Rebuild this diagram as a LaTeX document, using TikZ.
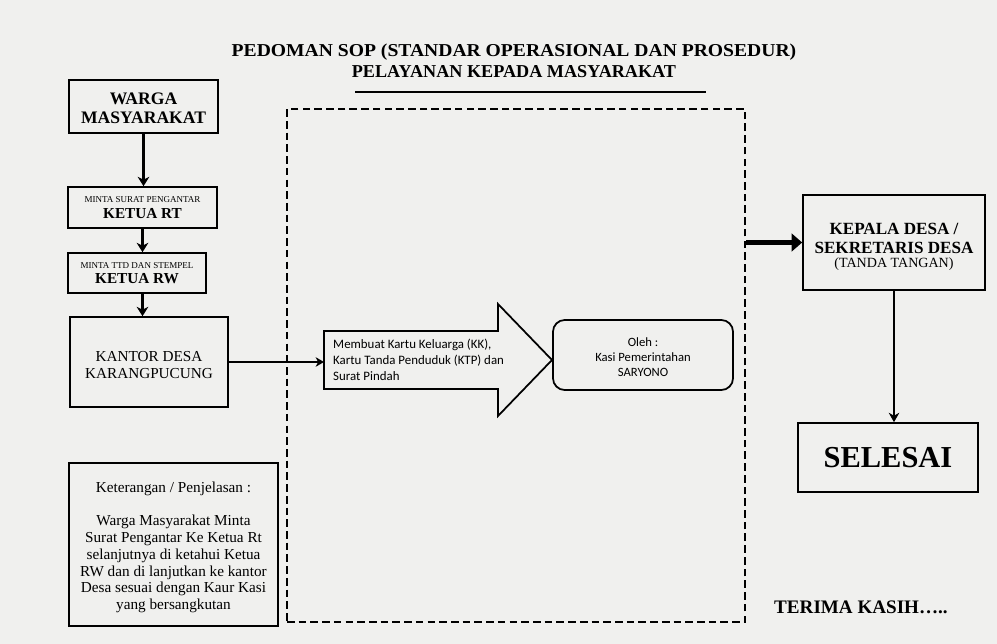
\documentclass[tikz,border=0pt]{standalone}
\usepackage{fontspec}
\setmainfont{Liberation Serif}
\newfontfamily\calfont{Carlito}
\usetikzlibrary{arrows.meta}
\definecolor{paper}{RGB}{240,240,238}
\begin{document}
\begin{tikzpicture}[x=0.03cm,y=-0.03cm,
  box/.style={draw, line width=1.4pt, inner sep=0pt, align=center},
  txt/.style={inner sep=0pt, align=center},
  flow/.style={line width=2pt, -{Stealth[length=8pt,width=10pt,inset=2.5pt]}},
  thinflow/.style={line width=1.6pt, -{Stealth[length=8pt,width=9pt,inset=2.5pt]}},
  bigflow/.style={line width=5pt, -{Triangle[length=9pt,width=15pt]}}]
\fill[paper] (0,0) rectangle (997,644);
\useasboundingbox (0,0) rectangle (997,644);

% title
\node[font=\fontsize{15.5}{18}\selectfont\bfseries, align=center] (title) at (514,61)
  {\scalebox{1.08}[1]{PEDOMAN SOP (STANDAR OPERASIONAL DAN PROSEDUR)}\\PELAYANAN KEPADA MASYARAKAT};
\coordinate (ul1) at (355,92);
\coordinate (ul2) at (706,92);
\draw[line width=1.6pt] (ul1) -- (ul2);

% left column
\node[box, minimum width=4.47cm, minimum height=1.59cm] (warga) at (143.5,106.5) {};
\node[txt, font=\fontsize{15}{16.5}\selectfont\bfseries] (wargatxt) at ([yshift=-1.7pt]warga.center) {WARGA\\MASYARAKAT};
\node[box, minimum width=4.47cm, minimum height=1.23cm, font=\fontsize{7.7}{13.5}\selectfont] (rt) at (142.5,207.5)
  {MINTA SURAT PENGANTAR\\{\fontsize{13}{14}\selectfont\bfseries KETUA RT}};
\node[box, minimum width=4.14cm, minimum height=1.2cm, font=\fontsize{7.7}{12.8}\selectfont] (rw) at (137,273)
  {MINTA TTD DAN STEMPEL\\{\fontsize{13}{14}\selectfont\bfseries KETUA RW}};
\node[box, minimum width=4.74cm, minimum height=2.7cm] (kantor) at (149,362) {};
\node[txt, font=\fontsize{13}{14.5}\selectfont] (kantortxt) at ([yshift=-2.5pt]kantor.center) {KANTOR DESA\\KARANGPUCUNG};
\node[box, minimum width=6.27cm, minimum height=4.89cm] (ket) at (173.5,544.5) {};
\node[txt, font=\fontsize{13}{14.3}\selectfont] (kettxt) at ([yshift=-2.5pt]ket.center)
  {Keterangan / Penjelasan :\\[14.3pt]
   Warga Masyarakat Minta\\Surat Pengantar Ke Ketua Rt\\selanjutnya di ketahui Ketua\\RW dan di lanjutkan ke kantor\\Desa sesuai dengan Kaur Kasi\\yang bersangkutan};

\draw[flow] (warga.south) -- (warga.south |- rt.north);
\draw[flow] (rt.south) -- (rt.south |- rw.north);
\draw[flow] (rt.south |- rw.south) -- (rt.south |- kantor.north);

% dashed zone
\node[draw, line width=2.5pt, dash pattern=on 6.5pt off 3.5pt, inner sep=0pt,
  minimum width=13.74cm, minimum height=15.39cm] (zone) at (516,365.5) {};

% big arrow
\draw[line width=1.5pt, line join=miter] (324,331) -- (498,331) -- (498,304) -- (552,360) -- (498,416) -- (498,389) -- (324,389) -- cycle;
\coordinate (arrowin) at (324,360);
\node[font=\calfont\fontsize{11}{13.5}\selectfont, align=left, anchor=west, inner sep=0pt] (task) at (333,360)
  {Membuat Kartu Keluarga (KK),\\Kartu Tanda Penduduk (KTP) dan\\Surat Pindah};
\draw[line width=2pt, -{Stealth[length=7pt,width=8pt,inset=2pt]}] (kantor.east) -- (kantor.east -| arrowin);

\node[draw, line width=1.5pt, rounded corners=10pt, minimum width=5.4cm, minimum height=2.1cm, inner sep=0pt] (oleh) at (643,355) {};
\node[txt, font=\calfont\fontsize{10.8}{12.8}\selectfont] (olehtxt) at ([yshift=-1.7pt]oleh.center) {Oleh :\\Kasi Pemerintahan\\SARYONO};

% right column
\node[box, minimum width=5.46cm, minimum height=2.85cm] (kepala) at (894,242.5) {};
\node[txt, font=\fontsize{14.6}{16}\selectfont\bfseries] (kepalatxt) at ([yshift=-3.6pt]kepala.center)
  {KEPALA DESA /\\SEKRETARIS DESA\\[-4pt]{\fontsize{12}{12}\selectfont\mdseries (TANDA TANGAN)}};
\node[box, minimum width=5.4cm, minimum height=2.07cm, font=\fontsize{26}{28}\selectfont\bfseries] (selesai) at (888,457.5) {SELESAI};
\node[font=\fontsize{16.3}{18}\selectfont\bfseries, anchor=west, inner sep=0pt] (terima) at (774,607) {TERIMA KASIH…..};

\draw[bigflow] (zone.east |- kepala.west) -- (kepala.west);
\draw[thinflow] (kepala.south) -- (kepala.south |- selesai.north);
\end{tikzpicture}
\end{document}
